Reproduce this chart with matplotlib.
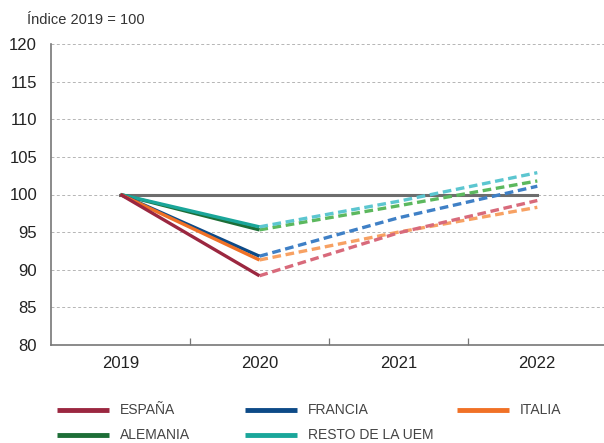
import matplotlib.pyplot as plt
from matplotlib.lines import Line2D
import numpy as np

# datos (indice 2019 = 100)
anios = ['2019', '2020', '2021', '2022']
paises = ['ESPAÑA', 'FRANCIA', 'ITALIA', 'ALEMANIA', 'RESTO DE LA UEM']
espana = [100, 89.2, 94.9, 99.2]
francia = [100, 91.8, 96.9, 101.1]
italia = [100, 91.3, 95.0, 98.3]
alemania = [100, 95.3, 98.5, 101.8]
resto_uem = [100, 95.7, 99.1, 102.9]
referencia = [100, 100, 100, 100]

series = [espana, francia, italia, alemania, resto_uem]
colores = ['#9b2740', '#0d4a87', '#f07126', '#1d6e37', '#1aa69a']
colores_claros = ['#d86a7b', '#3f80c6', '#f7a163', '#5cb85e', '#5cc6d0']

plt.rcParams['font.family'] = ['Liberation Sans', 'DejaVu Sans']

fig = plt.figure(figsize=(6.04, 4.43), dpi=100)
ax = fig.add_axes([51/604, 1-345/443, 1-51/604, (345-44)/443])

x = np.arange(len(anios))

# lineas de rejilla
for v in [85, 90, 95, 100, 105, 110, 115, 120]:
    ax.axhline(v, color='#b5b5b5', lw=0.7, ls=(0, (3, 2.5)), zorder=1)

ax.plot(x, referencia, color='#6d6d6d', lw=2.2, zorder=2)

orden = [3, 4, 1, 2, 0]
for i in orden:
    s = series[i]
    ax.plot(x[1:], s[1:], color=colores_claros[i], lw=2.4, ls=(0, (2.6, 1.4)), zorder=3)
for i in orden:
    s = series[i]
    ax.plot(x[:2], s[:2], color=colores[i], lw=2.4, zorder=4, solid_capstyle='butt')

ax.set_xlim(-0.5, 3.48)
ax.set_ylim(80, 120)
ax.set_yticks(range(80, 121, 5))
ax.set_xticks(x)
ax.set_xticklabels(anios)
ax.set_xticks([0.5, 1.5, 2.5], minor=True)
ax.tick_params(axis='x', which='major', length=0, pad=8, labelsize=12, colors='#222222')
ax.tick_params(axis='x', which='minor', direction='in', length=5, color='#777777', width=0.9)
ax.tick_params(axis='y', length=0, pad=10, labelsize=12, colors='#222222')
for lado in ['top', 'right']:
    ax.spines[lado].set_visible(False)
for lado in ['left', 'bottom']:
    ax.spines[lado].set_color('#777777')
    ax.spines[lado].set_linewidth(1.2)

fig.text(27/604, 1-20/443, 'Índice 2019 = 100', fontsize=10.5, color='#333333', va='center')

# leyenda
pos = [(57, 410), (245, 410), (457, 410), (57, 435), (245, 435)]
for (px, py), nombre, c in zip(pos, paises, colores):
    fig.add_artist(Line2D([px/604, (px+52)/604], [1-py/443, 1-py/443], color=c, lw=3.5,
                          solid_capstyle='butt'))
    fig.text((px+63)/604, 1-py/443, nombre, fontsize=10, color='#444444', va='center')

fig.savefig('out.png', dpi=100)
